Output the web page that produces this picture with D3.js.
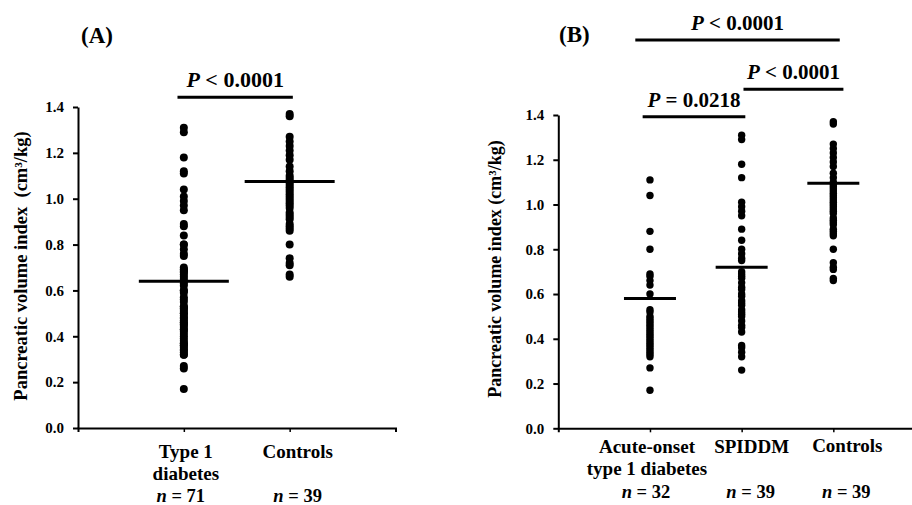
<!DOCTYPE html>
<html>
<head>
<meta charset="utf-8">
<script src="https://cdn.jsdelivr.net/npm/d3@7"></script>
<style>
  body { margin: 0; background: #fff; }
  text { font-family: "Times New Roman", "Liberation Serif", serif; font-weight: bold; fill: #000; }
</style>
</head>
<body>
<div id="chart"></div>
<script>
"use strict";

// pancreatic volume index values (cm3/kg)
const acuteValues = [1.11, 1.04, 0.88, 0.80, 0.69, 0.68, 0.66, 0.64, 0.60, 0.53, 0.52, 0.50,
    0.49, 0.48, 0.47, 0.46, 0.45, 0.44, 0.43, 0.42, 0.41, 0.40, 0.39, 0.38, 0.37, 0.36,
    0.35, 0.34, 0.33, 0.32, 0.27, 0.17];
const spiddmValues = [1.31, 1.29, 1.18, 1.12, 1.01, 0.99, 0.97, 0.95, 0.89, 0.84, 0.80, 0.78,
    0.76, 0.75, 0.70, 0.69, 0.68, 0.67, 0.65, 0.63, 0.62, 0.60, 0.59, 0.57, 0.56, 0.55,
    0.53, 0.52, 0.51, 0.50, 0.48, 0.46, 0.45, 0.43, 0.37, 0.36, 0.34, 0.32, 0.26];
const controlValues = [1.37, 1.36, 1.27, 1.25, 1.23, 1.21, 1.19, 1.17, 1.14, 1.12, 1.10, 1.09,
    1.08, 1.07, 1.06, 1.05, 1.04, 1.03, 1.02, 1.01, 1.00, 0.99, 0.98, 0.97, 0.96, 0.94,
    0.93, 0.92, 0.91, 0.89, 0.88, 0.87, 0.86, 0.80, 0.74, 0.72, 0.71, 0.67, 0.66];
// type 1 diabetes in panel A = acute-onset + SPIDDM
const type1Values = acuteValues.concat(spiddmValues);

// categories, n labels and group means
const categoriesA = [["Type 1", "diabetes"], ["Controls"]];
const nLabelsA = ["71", "39"];
const meansA = [0.64, 1.075];

const categoriesB = [["Acute-onset", "type 1 diabetes"], ["SPIDDM"], ["Controls"]];
const nLabelsB = ["32", "39", "39"];
const meansB = [0.58, 0.72, 1.095];

const yTicks = [0, 0.2, 0.4, 0.6, 0.8, 1.0, 1.2, 1.4];

// significance brackets: from / to (category units), height (index units), label
const bracketsA = [
    { from: 0.94, to: 2.03, at: 1.442, op: "<", p: "0.0001" }
];
const bracketsB = [
    { from: 0.92, to: 2.04, at: 1.392, op: "=", p: "0.0218" },
    { from: 2.02, to: 3.11, at: 1.515, op: "<", p: "0.0001" },
    { from: 0.84, to: 3.07, at: 1.735, op: "<", p: "0.0001" }
];

const svg = d3.select("#chart").append("svg")
    .attr("width", 912)
    .attr("height", 505);

// draws one panel of the figure
function drawPanel(opt) {

    const x = d3.scaleLinear().domain([0, opt.xMax]).range([opt.left, opt.right]);
    const y = d3.scaleLinear().domain([0, 1.4]).range([opt.bottom, opt.top]);
    const g = svg.append("g");

    // y axis
    const yAxis = g.append("g")
        .attr("transform", "translate(" + opt.left + ",0)")
        .call(d3.axisLeft(y).tickValues(yTicks).tickFormat(d3.format(".1f"))
            .tickSize(5).tickSizeOuter(0).tickPadding(9));
    yAxis.select(".domain").attr("stroke-width", 2);
    yAxis.selectAll(".tick line").attr("stroke-width", 2);
    yAxis.selectAll(".tick text")
        .attr("font-size", 15)
        .attr("font-family", null);

    // x axis (categories at 1, 2, ...)
    const xAxis = g.append("g")
        .attr("transform", "translate(0," + opt.bottom + ")")
        .call(d3.axisBottom(x).tickValues(d3.range(1, opt.groups.length + 1))
            .tickFormat("").tickSize(4).tickSizeOuter(4));
    xAxis.select(".domain").attr("stroke-width", 2);
    xAxis.selectAll(".tick line").attr("stroke-width", 1.5);

    // dots
    opt.groups.forEach(function (vals, i) {
        g.append("g").selectAll("circle")
            .data(vals)
            .enter()
            .append("circle")
            .attr("cx", x(i + 1))
            .attr("cy", function (d) { return y(d); })
            .attr("r", opt.r)
            .attr("fill", "#000");
    });

    // mean lines
    g.append("g").selectAll("line")
        .data(opt.means)
        .enter()
        .append("line")
        .attr("x1", function (d, i) { return x(i + 1) - opt.meanHalf; })
        .attr("x2", function (d, i) { return x(i + 1) + opt.meanHalf; })
        .attr("y1", function (d) { return y(d); })
        .attr("y2", function (d) { return y(d); })
        .attr("stroke", "#000")
        .attr("stroke-width", 3);

    // category labels
    opt.categories.forEach(function (lines, i) {
        lines.forEach(function (txt, j) {
            g.append("text")
                .attr("x", x(i + 1) + opt.catShift[i])
                .attr("y", opt.catY[i] + j * 22)
                .attr("text-anchor", "middle")
                .attr("font-size", 19)
                .text(txt);
        });
        const n = g.append("text")
            .attr("x", x(i + 1) + opt.nShift[i])
            .attr("y", opt.nY)
            .attr("text-anchor", "middle")
            .attr("font-size", 18.5);
        n.append("tspan").attr("font-style", "italic").text("n");
        n.append("tspan").text(" = " + opt.nLabels[i]);
    });

    // brackets
    opt.brackets.forEach(function (b) {
        g.append("line")
            .attr("x1", x(b.from)).attr("x2", x(b.to))
            .attr("y1", y(b.at)).attr("y2", y(b.at))
            .attr("stroke", "#000")
            .attr("stroke-width", 3);
        const t = g.append("text")
            .attr("x", (x(b.from) + x(b.to)) / 2)
            .attr("y", y(b.at) - 10)
            .attr("text-anchor", "middle")
            .attr("font-size", opt.pSize);
        t.append("tspan").attr("font-style", "italic").text("P");
        t.append("tspan").text(" " + b.op + " " + b.p);
    });

    // y axis title
    g.append("text")
        .attr("transform", "translate(" + opt.titleX + "," + opt.titleY + ") rotate(-90)")
        .attr("text-anchor", "middle")
        .attr("font-size", opt.titleSize)
        .attr("xml:space", "preserve")
        .text(opt.yTitle);

    // panel letter
    g.append("text")
        .attr("x", opt.letterX)
        .attr("y", opt.letterY)
        .attr("font-size", 23)
        .text(opt.letter);
}

drawPanel({
    letter: "(A)", letterX: 81, letterY: 43,
    left: 78, right: 395.5, top: 107, bottom: 428, xMax: 3,
    groups: [type1Values, controlValues], means: meansA, meanHalf: 45, r: 4,
    categories: categoriesA, nLabels: nLabelsA,
    catShift: [2, 8], nShift: [-3, 8], catY: [458, 458], nY: 502,
    brackets: bracketsA, pSize: 22,
    yTitle: "Pancreatic volume index  (cm\u00b3/kg)", titleX: 27, titleY: 266, titleSize: 18.5
});

drawPanel({
    letter: "(B)", letterX: 559, letterY: 42,
    left: 558.3, right: 925, top: 115, bottom: 428.3, xMax: 4,
    groups: [acuteValues, spiddmValues, controlValues], means: meansB, meanHalf: 26, r: 3.7,
    categories: categoriesB, nLabels: nLabelsB,
    catShift: [-3, 10, 14], nShift: [-4, 9, 13], catY: [453, 453, 452], nY: 498,
    brackets: bracketsB, pSize: 21,
    yTitle: "Pancreatic volume index (cm\u00b3/kg)", titleX: 501, titleY: 269, titleSize: 18
});
</script>
</body>
</html>
